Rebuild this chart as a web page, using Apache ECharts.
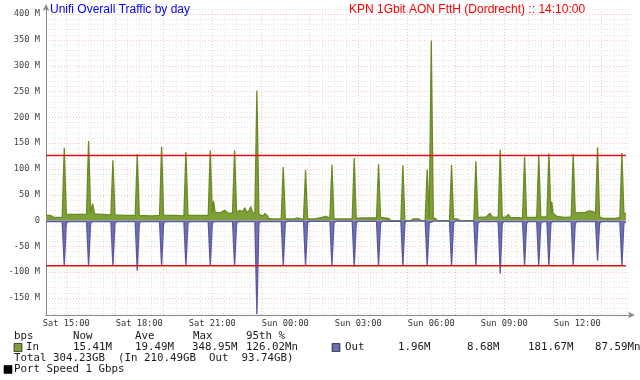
<!DOCTYPE html>
<html><head><meta charset="utf-8">
<script src="https://cdn.jsdelivr.net/npm/echarts@6/dist/echarts.min.js"></script>
<style>html,body{margin:0;padding:0;background:#fff}#c{width:640px;height:380px}</style>
</head><body><div id="c"></div>
<script>
// x values: minutes since the start of the window (Sat 14:10)
const xTickMinutes = [50, 230, 410, 590, 770, 950, 1130, 1310];
const xTickLabels = ['Sat 15:00','Sat 18:00','Sat 21:00','Sun 00:00','Sun 03:00','Sun 06:00','Sun 09:00','Sun 12:00'];
const yTickValues = [-150,-100,-50,0,50,100,150,200,250,300,350,400];
const yTickLabels = ['-150 M','-100 M','-50 M','0','50 M','100 M','150 M','200 M','250 M','300 M','350 M','400 M'];

// In traffic (Mbps) [minute, value]
const inPoints = [
 [0,10],[10,10],[20,6],[40,6],[45,141],[50,12],[70,12],[100,12],[105,154],[110,14],[115,33],[120,13],[140,12],[160,11],
 [165,117],[170,11],[200,10],[220,10],[225,129],[230,10],[260,9],[280,10],[285,143],[290,10],[320,10],[340,9],
 [345,133],[350,10],[375,10],[400,10],[405,136],[410,14],[413,38],[417,16],[430,15],[440,20],[450,14],[460,15],
 [465,136],[470,15],[478,20],[485,17],[490,25],[495,16],[500,18],[505,27],[510,15],[515,14],[520,252],[525,12],
 [535,9],[540,14],[545,10],[550,4],[560,3],[580,3],[585,104],[590,3],[610,3],[620,5],[630,3],[635,3],[640,98],[645,3],
 [660,3],[680,6],[690,8],[700,5],[705,108],[710,3],[730,3],[755,3],[760,121],[765,4],[780,5],[800,5],[815,5],
 [820,109],[825,6],[835,5],[845,4],[850,0],[875,0],[880,107],[885,0],[900,0],[905,3],[920,3],[925,0],[935,0],
 [940,99],[945,5],[950,349],[955,5],[960,4],[965,0],[995,0],[1000,108],[1005,3],[1015,3],[1020,0],[1055,0],
 [1060,115],[1065,6],[1085,7],[1095,14],[1100,7],[1115,6],[1120,137],[1125,6],[1135,7],[1140,12],[1145,6],[1175,5],
 [1180,123],[1185,6],[1210,6],[1215,125],[1220,7],[1235,7],[1240,130],[1245,14],[1247,37],[1250,14],[1260,8],
 [1280,6],[1295,7],[1300,129],[1305,15],[1330,16],[1340,19],[1350,17],[1355,14],[1360,142],[1365,7],[1375,4],
 [1405,4],[1415,6],[1420,131],[1425,14],[1430,14]
];
// Out traffic (Mbps, drawn negative) [minute, value]
const outPoints = [
 [0,-2],[40,-2],[45,-88],[50,-5],[55,-2],[100,-2],[105,-88],[110,-5],[115,-2],[160,-2],[165,-88],[170,-5],[175,-2],
 [220,-2],[225,-97],[230,-5],[235,-2],[280,-2],[285,-88],[290,-5],[295,-2],[340,-2],[345,-88],[350,-5],[355,-2],
 [400,-2],[405,-88],[410,-5],[415,-2],[460,-2],[465,-88],[470,-5],[475,-2],[515,-2],[520,-181.67],[525,-5],[530,-2],
 [580,-2],[585,-88],[590,-4],[595,-1.5],[635,-1.5],[640,-88],[645,-4],[650,-1.5],[700,-1.5],[705,-88],[710,-4],[715,-1.5],
 [755,-1.5],[760,-90],[765,-4],[770,-1.5],[815,-1.5],[820,-88],[825,-4],[830,-1.5],[875,-1],[880,-88],[885,-4],[890,-1],
 [935,-1],[940,-88],[945,-4],[950,-3],[955,-1],[995,-1],[1000,-88],[1005,-4],[1010,-1],[1055,-1],[1060,-88],[1065,-5],[1070,-2],
 [1115,-2],[1120,-103],[1125,-5],[1130,-2],[1175,-2],[1180,-88],[1185,-5],[1190,-2],[1210,-2],[1215,-88],[1220,-5],[1225,-2],
 [1235,-2],[1240,-88],[1245,-5],[1250,-2],[1295,-2],[1300,-88],[1305,-5],[1310,-2],[1355,-2],[1360,-78],[1365,-5],[1370,-2],
 [1415,-2],[1420,-88],[1425,-5],[1430,-2]
];
const pct95In = 126.02;
const pct95Out = -87.59;

const titleLeft = 'Unifi Overall Traffic by day';
const titleRight = 'KPN 1Gbit AON FttH (Dordrecht) :: 14:10:00';
const legendHeader = ['bps','Now','Ave','Max','95th %'];
const inStats = ['In','15.41M','19.49M','348.95M','126.02Mn'];
const outStats = ['Out','1.96M','8.68M','181.67M','87.59Mn'];
const totalLine = 'Total 304.23GB  (In 210.49GB  Out  93.74GB)';
const portLine = 'Port Speed 1 Gbps';

const X_MIN = 0, X_MAX = 1440, Y_MIN = -183, Y_MAX = 410;

// grid lines (styling, not data)
const gridLines = [];
for (let v = -180; v <= 410; v += 10) {
  if (v % 50 !== 0) gridLines.push({yAxis: v, lineStyle: {color: '#e4e4e4'}});
}
for (let t = 20; t <= 1440; t += 30) {
  if ((t - 50) % 120 !== 0) gridLines.push({xAxis: t, lineStyle: {color: '#e4e4e4'}});
}
yTickValues.forEach(v => gridLines.push({yAxis: v, lineStyle: {color: '#f7c0c0'}}));
for (let t = 50; t <= 1440; t += 120) gridLines.push({xAxis: t, lineStyle: {color: '#f7c0c0'}});

const mono = 'DejaVu Sans Mono';
const LF = 10.8;
function txt(x, y, s) {
  return {type: 'text', x: x, y: y, z: 100, style: {text: s, fontFamily: mono, fontSize: LF, fill: '#1a1a1a', verticalAlign: 'middle'}};
}
function box(x, y, c) {
  return {type: 'rect', z: 100, shape: {x: x, y: y, width: 8, height: 8}, style: {fill: c, stroke: '#000', lineWidth: 0.6}};
}
const r1 = 336, r2 = 347.5, r3 = 358.5, r4 = 369.5;
const graphics = [
  txt(14, r1, legendHeader[0]), txt(73, r1, legendHeader[1]), txt(135, r1, legendHeader[2]), txt(193, r1, legendHeader[3]), txt(246, r1, legendHeader[4]),
  box(14, r2 - 4, '#7f9f37'), txt(26, r2, inStats[0]), txt(73, r2, inStats[1]), txt(135, r2, inStats[2]), txt(192, r2, inStats[3]), txt(246, r2, inStats[4]),
  box(332, r2 - 4, '#6a6aae'), txt(345, r2, outStats[0]), txt(398, r2, outStats[1]), txt(467, r2, outStats[2]), txt(528, r2, outStats[3]), txt(595, r2, outStats[4]),
  txt(14, r3, totalLine),
  box(4, r4 - 4, '#000'), txt(14, r4, portLine)
];

const RED = '#dd1111';
const chart = echarts.init(document.getElementById('c'), null, {renderer: 'canvas'});
chart.setOption({
  animation: false,
  backgroundColor: '#ffffff',
  title: [
    {text: titleLeft, left: 50, top: 4, padding: 0, textStyle: {fontFamily: 'Liberation Sans', fontSize: 12, fontWeight: 'normal', color: '#0000ff'}},
    {text: titleRight, left: 349, top: 4, padding: 0, textStyle: {fontFamily: 'Liberation Sans', fontSize: 12, fontWeight: 'normal', color: '#ff0000'}}
  ],
  grid: {left: 46, right: 10, top: 9, bottom: 65, containLabel: false},
  xAxis: {
    type: 'value', min: X_MIN, max: X_MAX,
    axisLine: {show: true, onZero: false, lineStyle: {color: '#888', width: 1}, symbol: ['none', 'arrow'], symbolSize: [5, 7], symbolOffset: [0, 5]},
    axisTick: {show: false},
    splitLine: {show: false},
    axisLabel: {customValues: xTickMinutes, formatter: v => xTickLabels[xTickMinutes.indexOf(v)], fontFamily: mono, fontSize: 8.7, color: '#333', margin: 4}
  },
  yAxis: {
    type: 'value', min: Y_MIN, max: Y_MAX,
    axisLine: {show: true, onZero: false, lineStyle: {color: '#888', width: 1}, symbol: ['none', 'arrow'], symbolSize: [5, 7], symbolOffset: [0, 5]},
    axisTick: {show: false},
    splitLine: {show: false},
    axisLabel: {customValues: yTickValues, formatter: v => yTickLabels[yTickValues.indexOf(v)], fontFamily: mono, fontSize: 8.7, color: '#444', margin: 6}
  },
  graphic: graphics,
  series: [
    {type: 'line', z: 0, data: [], silent: true,
     markLine: {z: 0, silent: true, symbol: ['none', 'none'], label: {show: false}, lineStyle: {type: [1, 2], width: 1}, data: gridLines}},
    {name: 'In', type: 'line', z: 2, data: inPoints, showSymbol: false, symbol: 'none', color: '#6a8a26',
     lineStyle: {color: '#6a8a26', width: 1.3}, areaStyle: {color: '#7f9f37', opacity: 1}},
    {name: 'Out', type: 'line', z: 2, data: outPoints, showSymbol: false, symbol: 'none', color: '#5a5aa2',
     lineStyle: {color: '#5a5aa2', width: 1.3}, areaStyle: {color: '#7070b4', opacity: 1}},
    {name: 'p95in', type: 'line', z: 3, color: RED, data: [[X_MIN, pct95In], [1430, pct95In]], showSymbol: false, symbol: 'none', itemStyle: {color: RED}, lineStyle: {color: RED, width: 1.5, type: 'solid'}},
    {name: 'p95out', type: 'line', z: 3, color: RED, data: [[X_MIN, pct95Out], [1430, pct95Out]], showSymbol: false, symbol: 'none', itemStyle: {color: RED}, lineStyle: {color: RED, width: 1.5, type: 'solid'}}
  ]
});
</script>
</body></html>
